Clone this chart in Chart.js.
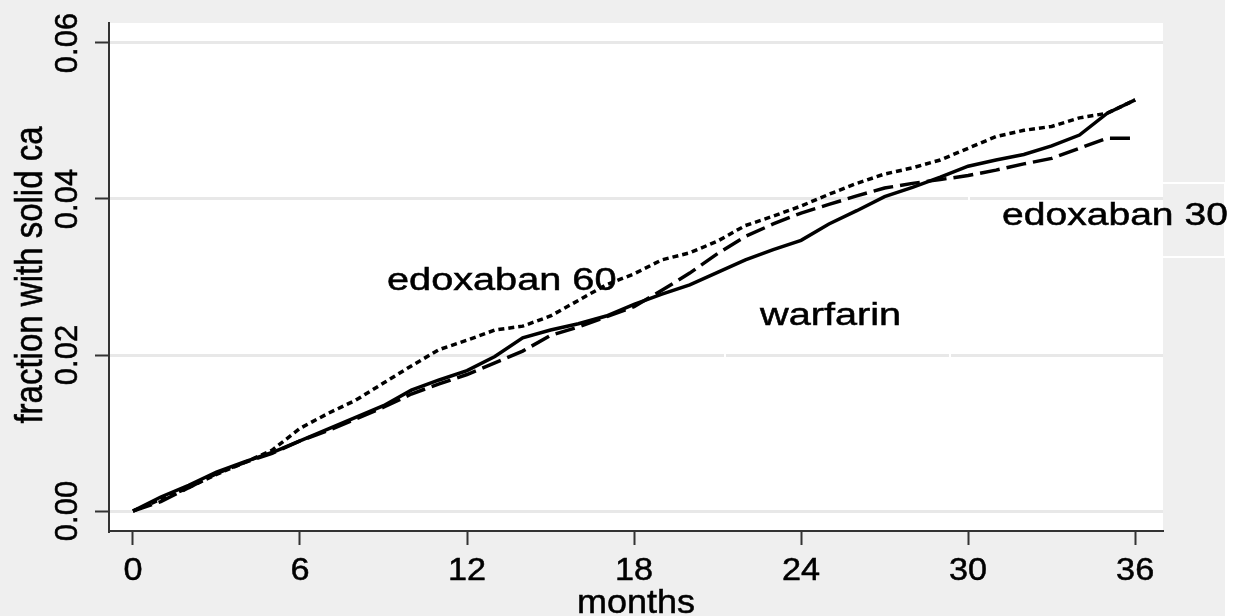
<!DOCTYPE html>
<html>
<head>
<meta charset="utf-8">
<script src="https://cdn.jsdelivr.net/npm/chart.js@4"></script>
<style>
html, body { margin: 0; padding: 0; background: #fff; }
canvas { display: block; }
</style>
</head>
<body>
<canvas id="kmChart" width="1242" height="616"></canvas>
<script>
const kmCanvas = document.getElementById('kmChart');

var months = [0,1,2,3,4,5,6,7,8,9,10,11,12,13,14,15,16,17,18,19,20,21,22,23,24,25,26,27,28,29,30,31,32,33,34,35,36];
var edox60 = [0,0.0015,0.0030,0.0047,0.0062,0.0078,0.0106,0.0125,0.0142,0.0164,0.0186,0.0207,0.0219,0.0232,0.0237,0.0250,0.0270,0.0290,0.0304,0.0322,0.0331,0.0346,0.0366,0.0378,0.0391,0.0406,0.0420,0.0432,0.0440,0.0450,0.0465,0.0480,0.0488,0.0493,0.0504,0.0510,0.0527];
var warfarin = [0,0.0018,0.0033,0.0050,0.0063,0.0075,0.0090,0.0105,0.0120,0.0135,0.0155,0.0168,0.0180,0.0198,0.0222,0.0232,0.0240,0.0250,0.0265,0.0278,0.0290,0.0306,0.0322,0.0335,0.0347,0.0368,0.0385,0.0403,0.0415,0.0428,0.0442,0.0450,0.0457,0.0468,0.0482,0.0510,0.0527];
var edox30 = [0,0.0012,0.0030,0.0048,0.0062,0.0074,0.0090,0.0103,0.0118,0.0133,0.0150,0.0163,0.0175,0.0190,0.0205,0.0225,0.0236,0.0249,0.0262,0.0283,0.0305,0.0330,0.0352,0.0368,0.0382,0.0393,0.0404,0.0414,0.0420,0.0425,0.0430,0.0437,0.0445,0.0452,0.0465,0.0478,0.0478];

var xTicks = [0,6,12,18,24,30,36];
var yTicks = [0,0.02,0.04,0.06];
var yTickLabels = ['0.00','0.02','0.04','0.06'];
var seriesNames = ['edoxaban 60','warfarin','edoxaban 30'];

function toPoints(vals) {
    return months.map(function(m, i) { return { x: m, y: vals[i] }; });
}

// text drawn with a stretch, like the stata export
function drawText(ctx, txt, x, y, size, sx, sy, rot, align) {
    ctx.save();
    ctx.translate(x, y);
    if (rot) ctx.rotate(rot);
    ctx.scale(sx, sy);
    ctx.font = size + 'px "Liberation Sans", Arial, sans-serif';
    ctx.fillStyle = '#000';
    ctx.strokeStyle = '#000';
    ctx.lineWidth = 0.5;
    ctx.textAlign = align || 'center';
    ctx.textBaseline = 'alphabetic';
    ctx.fillText(txt, 0, 0);
    ctx.strokeText(txt, 0, 0);
    ctx.restore();
}

const stataLook = {
    id: 'stataLook',
    beforeDraw: function(chart) {
        const ctx = chart.ctx;
        const a = chart.chartArea;
        ctx.save();
        ctx.fillStyle = '#efefef';
        ctx.fillRect(0, 0, 1225, chart.height);
        ctx.fillStyle = '#fff';
        ctx.fillRect(a.left, a.top, a.right - a.left, a.bottom - a.top);
        ctx.restore();
    },
    beforeDatasetsDraw: function(chart) {
        const ctx = chart.ctx;
        ctx.save();
        ctx.strokeStyle = '#fff';
        ctx.lineWidth = 2;
        ctx.strokeRect(969, 183, 256, 74);
        ctx.beginPath();
        ctx.moveTo(725, 340); ctx.lineTo(725, 360);
        ctx.moveTo(950, 340); ctx.lineTo(950, 360);
        ctx.stroke();
        ctx.restore();
    },
    afterDraw: function(chart) {
        const ctx = chart.ctx;
        const xs = chart.scales.x;
        const ys = chart.scales.y;
        const a = chart.chartArea;
        xTicks.forEach(function(v) {
            drawText(ctx, String(v), xs.getPixelForValue(v), 580, 32, 1.07, 1, 0);
        });
        yTicks.forEach(function(v, i) {
            drawText(ctx, yTickLabels[i], 77, ys.getPixelForValue(v), 31, 1, 1, -Math.PI / 2);
        });
        drawText(ctx, 'months', (a.left + a.right) / 2, 613, 34, 1.06, 1, 0);
        drawText(ctx, 'fraction with solid ca', 42, 275, 33, 1.0, 1.2, -Math.PI / 2);
        drawText(ctx, seriesNames[0], 387, 290, 31, 1.28, 1, 0, 'left');
        drawText(ctx, seriesNames[1], 760, 325, 31, 1.28, 1, 0, 'left');
        drawText(ctx, seriesNames[2], 1002, 225, 31, 1.26, 1, 0, 'left');
    }
};

const chartData = {
    datasets: [{
        label: seriesNames[0],
        data: toPoints(edox60),
        borderColor: '#000',
        borderWidth: 3.5,
        borderDash: [6, 4],
        pointRadius: 0,
        fill: false
    }, {
        label: seriesNames[1],
        data: toPoints(warfarin),
        borderColor: '#000',
        borderWidth: 3.5,
        pointRadius: 0,
        fill: false
    }, {
        label: seriesNames[2],
        data: toPoints(edox30),
        borderColor: '#000',
        borderWidth: 3.5,
        borderDash: [20, 7],
        pointRadius: 0,
        fill: false
    }]
};

const config = {
    type: 'line',
    data: chartData,
    options: {
        responsive: false,
        animation: false,
        layout: { padding: { top: 23, right: 79, left: 0, bottom: 0 } },
        plugins: {
            legend: { display: false },
            tooltip: { enabled: false }
        },
        scales: {
            x: {
                type: 'linear',
                min: -0.86,
                max: 37.0,
                afterBuildTicks: function(s) { s.ticks = xTicks.map(function(v) { return { value: v }; }); },
                afterFit: function(s) { s.height = 85; },
                grid: { drawOnChartArea: false, tickLength: 14, tickColor: '#333', tickWidth: 2 },
                border: { color: '#333', width: 2 },
                ticks: { display: false }
            },
            y: {
                min: -0.00256,
                max: 0.06256,
                afterBuildTicks: function(s) { s.ticks = yTicks.map(function(v) { return { value: v }; }); },
                afterFit: function(s) { s.width = 109; },
                grid: { color: '#e8e8e8', lineWidth: 3, tickLength: 14, tickColor: '#333', tickWidth: 2 },
                border: { color: '#333', width: 2 },
                ticks: { display: false }
            }
        }
    },
    plugins: [stataLook]
};

new Chart(kmCanvas, config);
</script>
</body>
</html>
